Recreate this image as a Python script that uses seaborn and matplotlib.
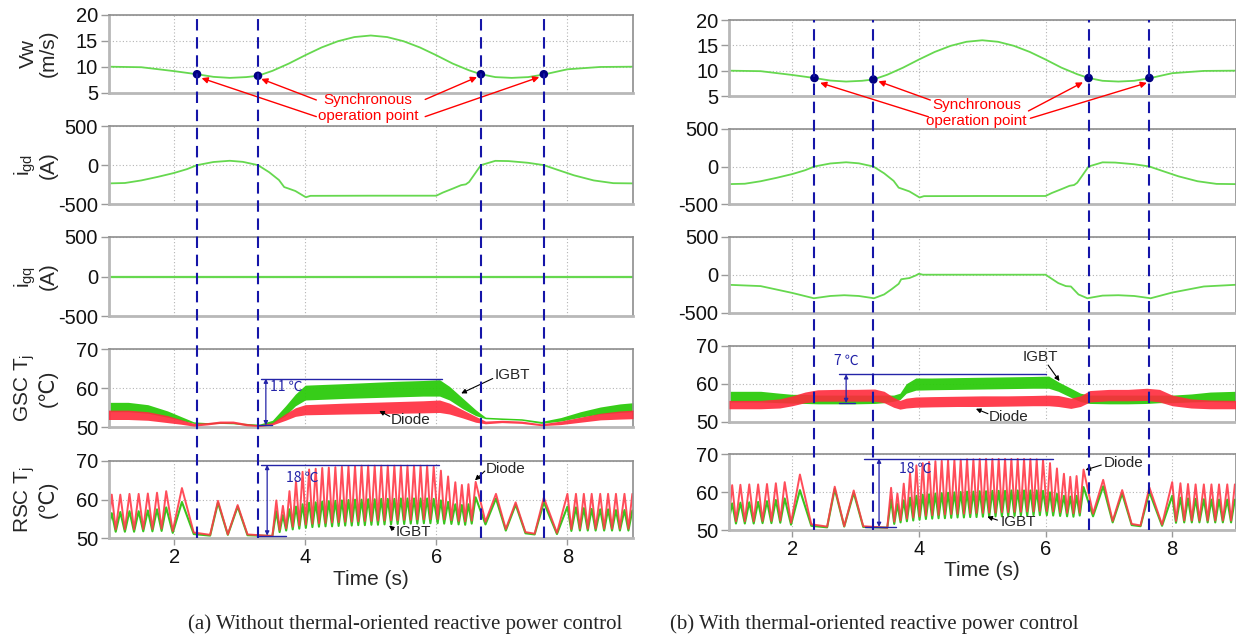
import numpy as np
import matplotlib
matplotlib.use("Agg")
import matplotlib.pyplot as plt
import matplotlib.transforms as mtransforms
from matplotlib.lines import Line2D
import seaborn as sns

sns.set_theme(style="white")
plt.rcParams["font.family"] = ["Liberation Sans", "DejaVu Sans"]
plt.rcParams["mathtext.default"] = "regular"
plt.rcParams["axes.unicode_minus"] = False

# ---- data ----
# wind speed (same in both cases)
vw_t = [1.0, 1.5, 2.0, 2.35, 2.6, 2.85, 3.1, 3.28, 3.5, 3.75, 4.0, 4.25, 4.5, 4.75, 5.0,
        5.25, 5.5, 5.75, 6.0, 6.25, 6.5, 6.68, 6.9, 7.15, 7.4, 7.64, 8.0, 8.5, 9.0]
vw_v = [10.0, 9.9, 9.15, 8.55, 8.05, 7.85, 8.0, 8.25, 9.2, 10.6, 12.2, 13.7, 14.9, 15.7, 16.0,
        15.7, 14.9, 13.7, 12.2, 10.6, 9.3, 8.55, 8.0, 7.85, 8.0, 8.5, 9.5, 9.95, 10.0]

sync_t = [2.35, 3.28, 6.68, 7.64]
sync_v = [8.55, 8.25, 8.55, 8.55]

# grid-side d-axis current
igd_t = [1.0, 1.25, 1.5, 1.75, 2.0, 2.2, 2.35, 2.6, 2.85, 3.05, 3.28, 3.45, 3.6, 3.68, 3.75,
         3.85, 3.95, 4.01, 4.08, 5.0, 6.0, 6.1, 6.25, 6.38, 6.45, 6.5, 6.58, 6.68, 6.9, 7.1,
         7.4, 7.64, 7.85, 8.1, 8.4, 8.7, 9.0]
igd_v = [-233, -228, -195, -150, -100, -50, 0, 40, 56, 42, 0, -90, -190, -280, -300,
         -330, -380, -410, -392, -390, -390, -350, -300, -255, -245, -215, -120, 0, 55, 52,
         30, 0, -60, -130, -195, -230, -233]

# grid-side q-axis current
igq_a_t = [1.0, 9.0]
igq_a_v = [0, 0]
igq_b_t = [1.0, 1.5, 2.0, 2.34, 2.6, 2.82, 3.05, 3.29, 3.45, 3.57, 3.68, 3.72, 3.85, 3.95, 4.0,
           4.06, 5.0, 6.0, 6.2, 6.32, 6.4, 6.52, 6.66, 6.9, 7.15, 7.4, 7.66, 8.0, 8.5, 9.0]
igq_b_v = [-133, -150, -240, -310, -280, -270, -280, -310, -260, -190, -120, -60, -44, -10, 13,
           0, 0, 0, -110, -150, -155, -260, -310, -275, -270, -280, -310, -235, -155, -133]

# GSC junction temperature bands (a)
gsc_a_t = [1.0, 1.3, 1.6, 1.9, 2.1, 2.3, 2.5, 2.7, 2.9, 3.1, 3.3, 3.5, 3.7, 3.85, 4.0, 4.3, 4.6,
           5.0, 5.4, 5.8, 6.05, 6.2, 6.4, 6.6, 6.75, 7.0, 7.3, 7.6, 7.9, 8.2, 8.5, 8.8, 9.0]
gsc_a_igbt_hi = [56.4, 56.4, 55.8, 54.2, 52.8, 51.4, 51.2, 51.3, 51.2, 51.0, 50.8, 51.8, 55.5, 58.5,
                 60.8, 61.0, 61.2, 61.5, 61.8, 62.0, 62.2, 60.5, 57.5, 54.5, 52.6, 52.4, 52.2, 51.5,
                 52.5, 54.0, 55.2, 56.0, 56.3]
gsc_a_igbt_lo = [54.0, 54.0, 53.6, 52.6, 51.8, 51.0, 50.9, 51.0, 50.9, 50.6, 50.4, 51.0, 53.0, 55.5,
                 57.0, 57.2, 57.4, 57.6, 57.8, 58.0, 58.0, 57.0, 54.8, 53.0, 52.2, 52.0, 51.8, 51.0,
                 51.6, 52.6, 53.4, 53.8, 54.0]
gsc_a_diode_hi = [54.4, 54.4, 54.0, 53.0, 52.0, 51.0, 51.2, 51.6, 51.6, 51.0, 50.6, 51.2, 53.5, 55.0,
                  55.8, 56.0, 56.2, 56.4, 56.6, 56.8, 57.0, 56.2, 54.5, 52.8, 51.6, 51.8, 51.6, 50.9,
                  51.6, 52.6, 53.6, 54.2, 54.4]
gsc_a_diode_lo = [52.0, 52.0, 51.8, 51.2, 50.8, 50.3, 50.6, 51.0, 51.0, 50.4, 50.2, 50.6, 51.8, 52.8,
                  53.2, 53.3, 53.4, 53.5, 53.6, 53.7, 53.8, 53.4, 52.4, 51.3, 50.9, 51.2, 51.0, 50.4,
                  50.7, 51.3, 51.9, 52.1, 52.2]

# GSC junction temperature bands (b)
gsc_b_t = [1.0, 1.5, 1.8, 2.0, 2.2, 2.4, 2.7, 3.0, 3.3, 3.45, 3.6, 3.7, 3.8, 3.95, 4.2, 4.6, 5.0,
           5.4, 5.8, 6.05, 6.2, 6.4, 6.55, 6.7, 7.0, 7.3, 7.6, 7.8, 8.0, 8.3, 8.6, 9.0]
gsc_b_igbt_hi = [58.0, 58.0, 57.5, 57.2, 57.2, 57.0, 57.0, 57.0, 57.0, 57.0, 57.0, 57.5, 60.0, 61.5,
                 61.5, 61.6, 61.7, 61.8, 61.9, 62.0, 60.5, 58.8, 57.5, 57.0, 57.0, 57.0, 57.0, 57.0,
                 57.0, 57.3, 57.8, 58.0]
gsc_b_igbt_lo = [55.2, 55.2, 55.0, 54.9, 54.8, 54.7, 54.7, 54.7, 54.8, 55.0, 55.4, 55.8, 57.5, 58.3,
                 58.4, 58.5, 58.6, 58.7, 58.8, 58.8, 58.0, 56.4, 55.3, 54.8, 54.7, 54.7, 54.8, 55.0,
                 55.0, 55.2, 55.3, 55.2]
gsc_b_diode_hi = [55.6, 55.6, 56.0, 56.8, 57.8, 58.4, 58.5, 58.5, 58.6, 58.0, 56.4, 55.6, 56.2, 56.5,
                  56.6, 56.7, 56.8, 56.8, 56.9, 57.0, 56.9, 56.2, 56.8, 58.2, 58.5, 58.5, 58.8, 58.5,
                  57.0, 56.0, 55.7, 55.6]
gsc_b_diode_lo = [53.4, 53.4, 53.6, 54.2, 55.0, 55.4, 55.4, 55.4, 55.4, 55.0, 53.8, 53.3, 53.6, 53.8,
                  53.9, 54.0, 54.0, 54.1, 54.2, 54.2, 54.0, 53.5, 54.0, 55.2, 55.5, 55.5, 55.6, 55.2,
                  54.2, 53.6, 53.4, 53.4]

# RSC junction temperature: peak and trough points
rsc_peak_t = [1.05, 1.18, 1.32, 1.46, 1.60, 1.74, 1.88, 2.12, 2.67, 2.97, 3.56, 3.66, 3.76, 3.86, 3.96,
              4.06, 4.16, 4.26, 4.36, 4.46, 4.56, 4.66, 4.76, 4.86, 4.96, 5.06, 5.16, 5.26, 5.36, 5.46,
              5.56, 5.66, 5.76, 5.86, 5.96, 6.07, 6.18, 6.29, 6.39, 6.49, 6.60, 6.91, 7.21, 7.64,
              8.00, 8.13, 8.25, 8.37, 8.50, 8.62, 8.74, 8.87, 8.99]
rsc_a_diode_pk = [61.3, 61.3, 61.5, 61.5, 61.6, 61.8, 62.2, 63.0, 59.7, 58.6, 59.8, 58.4, 62.2, 64.8, 67.2,
                  67.8, 68.0, 68.2, 68.3, 68.4, 68.5, 68.6, 68.7, 68.8, 68.8, 68.8, 68.8, 68.8, 68.8, 68.8,
                  68.8, 68.8, 68.8, 68.8, 68.5, 67.5, 66.0, 64.5, 63.8, 64.0, 64.6, 61.5, 59.3, 60.5,
                  61.5, 61.5, 61.5, 61.5, 61.5, 61.5, 61.5, 61.5, 61.5]
rsc_a_igbt_pk = [56.5, 56.8, 57.0, 57.0, 57.2, 57.5, 58.0, 59.4, 59.2, 58.2, 57.0, 56.0, 57.5, 58.2, 58.8,
                 59.2, 59.3, 59.5, 59.6, 59.7, 59.8, 59.9, 60.0, 60.0, 60.1, 60.1, 60.2, 60.2, 60.2, 60.3,
                 60.3, 60.3, 60.3, 60.3, 60.2, 59.8, 59.4, 58.8, 58.6, 58.8, 60.6, 60.3, 58.7, 59.3,
                 58.2, 58.0, 57.8, 57.6, 57.5, 57.5, 57.3, 57.3, 57.2]
rsc_b_diode_pk = [61.8, 61.9, 62.0, 62.0, 62.1, 62.3, 62.6, 64.6, 61.4, 60.4, 61.1, 59.6, 62.2, 65.0, 67.0,
                  67.6, 67.9, 68.1, 68.2, 68.3, 68.4, 68.5, 68.6, 68.6, 68.7, 68.7, 68.7, 68.7, 68.7, 68.7,
                  68.7, 68.7, 68.7, 68.6, 68.4, 67.6, 66.2, 64.8, 64.0, 64.2, 65.9, 63.2, 60.5, 61.2,
                  62.6, 62.3, 62.1, 62.0, 62.0, 62.0, 62.0, 62.0, 62.0]
rsc_b_igbt_pk = [57.0, 57.2, 57.3, 57.4, 57.6, 57.9, 58.3, 60.5, 60.8, 59.8, 58.0, 56.8, 57.8, 58.5, 59.0,
                 59.3, 59.4, 59.6, 59.7, 59.8, 59.9, 60.0, 60.1, 60.1, 60.2, 60.2, 60.3, 60.3, 60.3, 60.4,
                 60.4, 60.4, 60.4, 60.4, 60.3, 59.9, 59.5, 59.0, 58.8, 59.0, 61.3, 61.5, 59.6, 60.0,
                 59.0, 58.5, 58.3, 58.2, 58.1, 58.0, 58.0, 58.0, 58.0]
rsc_trough_t = [1.0, 1.11, 1.25, 1.39, 1.53, 1.67, 1.81, 1.98, 2.30, 2.55, 2.82, 3.12, 3.30, 3.50,
                3.61, 3.71, 3.81, 3.91, 4.01, 4.11, 4.21, 4.31, 4.41, 4.51, 4.61, 4.71, 4.81, 4.91,
                5.01, 5.11, 5.21, 5.31, 5.41, 5.51, 5.61, 5.71, 5.81, 5.91, 6.02, 6.12, 6.23, 6.34,
                6.44, 6.54, 6.75, 7.06, 7.36, 7.50, 7.84, 8.06, 8.19, 8.31, 8.43, 8.56, 8.68, 8.80, 8.93]
rsc_diode_tr = [53.5, 52.3, 52.3, 52.3, 52.4, 52.4, 52.5, 51.9, 51.5, 50.9, 51.0, 51.0, 50.8, 50.6,
                52.2, 52.6, 53.0, 53.3, 53.6, 53.8, 53.9, 54.0, 54.1, 54.2, 54.3, 54.3, 54.4, 54.5,
                54.5, 54.6, 54.6, 54.7, 54.7, 54.8, 54.8, 54.9, 54.9, 55.0, 55.0, 54.9, 54.7, 54.5,
                54.4, 54.6, 54.3, 52.4, 51.6, 51.2, 51.4, 52.4, 52.5, 52.5, 52.5, 52.5, 52.5, 52.5, 52.5]
rsc_igbt_tr = [52.8, 51.7, 51.7, 51.7, 51.8, 51.8, 51.9, 51.4, 51.1, 50.7, 50.9, 50.8, 50.7, 50.6,
               51.6, 52.0, 52.3, 52.5, 52.7, 52.9, 53.0, 53.1, 53.1, 53.2, 53.3, 53.3, 53.4, 53.4,
               53.5, 53.5, 53.6, 53.6, 53.7, 53.7, 53.8, 53.8, 53.9, 53.9, 53.9, 53.8, 53.7, 53.6,
               53.5, 53.8, 53.6, 52.0, 51.3, 51.0, 51.1, 51.9, 52.0, 52.0, 52.0, 52.0, 52.0, 52.0, 52.0]

# ---- colours ----
LINE_GREEN = "#66d84f"
BAND_GREEN = "#2ccb0c"
BAND_RED = "#ff2a3c"
RSC_RED = "#ff3a48"
RSC_GREEN = "#38c41f"
DASH_BLUE = "#1515a8"
MEAS_BLUE = "#2424a8"

W, H = 1236, 639
fig = plt.figure(figsize=(W / 100, H / 100), dpi=100)

rows_a = [(14.7, 92.7), (126, 204.3), (237, 316), (349.3, 427.3), (461, 538.3)]
rows_b = [(20, 96), (128.7, 204.3), (236.7, 312.7), (345.7, 421.7), (454, 530)]
cols = {"a": (108.5, 633), "b": (729, 1235.5)}


def make_axes(col, rows):
    x0, x1 = cols[col]
    axs = []
    for top, bot in rows:
        axs.append(fig.add_axes([x0 / W, 1 - bot / H, (x1 - x0) / W, (bot - top) / H]))
    return axs


def style(ax, ylim, yticks, bottom_row):
    ax.set_xlim(1, 9)
    ax.set_ylim(*ylim)
    ax.set_yticks(yticks)
    ax.set_xticks([2, 4, 6, 8])
    ax.grid(True, linestyle=(0, (1, 2)), color="#b4b4b4", lw=0.8)
    ax.set_facecolor("white")
    for s in ["top", "right"]:
        ax.spines[s].set_color("#8e8e8e")
        ax.spines[s].set_linewidth(1.2)
    for s in ["left", "bottom"]:
        ax.spines[s].set_color("#b8b8b8")
        ax.spines[s].set_linewidth(2.0)
    ax.tick_params(axis="y", left=True, length=6, width=1, color="#9a9a9a",
                   labelsize=14.5, pad=1.5, labelcolor="#111111")
    ax.tick_params(axis="x", bottom=bottom_row, labelbottom=bottom_row, length=5, width=1,
                   color="#9a9a9a", labelsize=14.5, pad=2, labelcolor="#111111")
    ax.set_xlabel("")
    ax.set_ylabel("")


def blue_measure(ax, x_arrow, y_lo, y_hi, top_span, low_span, label, label_xy, ha="left"):
    ax.plot(top_span, [y_hi, y_hi], color=MEAS_BLUE, lw=1.0, clip_on=False, zorder=6)
    ax.plot(low_span, [y_lo, y_lo], color=MEAS_BLUE, lw=1.0, clip_on=False, zorder=6)
    ax.annotate("", xy=(x_arrow, y_hi), xytext=(x_arrow, y_lo),
                arrowprops=dict(arrowstyle="<|-|>", color=MEAS_BLUE, lw=0.9,
                                mutation_scale=6, shrinkA=0, shrinkB=0), zorder=6)
    ax.text(label_xy[0], label_xy[1], label, color=MEAS_BLUE, fontsize=10, ha=ha, va="center",
            family=["Noto Sans CJK SC", "DejaVu Sans"], zorder=6)


def black_note(ax, text, text_xy, tail, head):
    ax.annotate("", xy=head, xytext=tail,
                arrowprops=dict(arrowstyle="-|>", color="black", lw=0.8, mutation_scale=7,
                                shrinkA=0, shrinkB=0), annotation_clip=False, zorder=7)
    ax.text(text_xy[0], text_xy[1], text, fontsize=11, ha="left", va="center", zorder=7)


def draw_panel(col, rows, igq_t, igq_v, gsc, rsc_pk, arrows, sync_text_xy, notes):
    axs = make_axes(col, rows)
    ax_vw, ax_gd, ax_gq, ax_gsc, ax_rsc = axs

    sns.lineplot(x=vw_t, y=vw_v, ax=ax_vw, color=LINE_GREEN, lw=1.3)
    sns.scatterplot(x=sync_t, y=sync_v, ax=ax_vw, color="#000080", s=38, edgecolor="none", zorder=8)
    style(ax_vw, (5, 20), [5, 10, 15, 20], False)

    sns.lineplot(x=igd_t, y=igd_v, ax=ax_gd, color=LINE_GREEN, lw=1.3)
    style(ax_gd, (-500, 500), [-500, 0, 500], False)

    sns.lineplot(x=igq_t, y=igq_v, ax=ax_gq, color=LINE_GREEN, lw=1.6 if len(igq_t) == 2 else 1.3)
    style(ax_gq, (-500, 500), [-500, 0, 500], False)

    g_t, g_ihi, g_ilo, g_dhi, g_dlo = gsc
    ax_gsc.fill_between(g_t, g_ilo, g_ihi, color=BAND_GREEN, lw=0, alpha=0.95, zorder=2)
    ax_gsc.fill_between(g_t, g_dlo, g_dhi, color=BAND_RED, lw=0, alpha=0.9, zorder=3)
    style(ax_gsc, (50, 70), [50, 60, 70], False)

    d_pk, i_pk = rsc_pk
    sns.lineplot(x=np.r_[rsc_peak_t, rsc_trough_t], y=np.r_[i_pk, rsc_igbt_tr], ax=ax_rsc,
                 color=RSC_GREEN, lw=1.5, estimator=None, sort=True)
    sns.lineplot(x=np.r_[rsc_peak_t, rsc_trough_t], y=np.r_[d_pk, rsc_diode_tr], ax=ax_rsc,
                 color=RSC_RED, lw=1.4, alpha=0.9, estimator=None, sort=True)
    style(ax_rsc, (50, 70), [50, 60, 70], True)
    ax_rsc.set_xlabel("Time (s)", fontsize=15, labelpad=2)

    # synchronous operation point labels
    ax_vw.text(sync_text_xy[0], sync_text_xy[1], "Synchronous\noperation point", color="red",
               fontsize=11, ha="center", va="center", linespacing=1.15, clip_on=False, zorder=9)
    for tail, head in arrows:
        ax_vw.annotate("", xy=head, xytext=tail,
                       arrowprops=dict(arrowstyle="-|>", color="red", lw=1.0, mutation_scale=9,
                                       shrinkA=0, shrinkB=0), annotation_clip=False, zorder=9)

    # dashed synchronous lines through all rows
    tr = mtransforms.blended_transform_factory(ax_rsc.transData, fig.transFigure)
    y_top = 1 - rows[0][0] / H
    y_bot = 1 - rows[-1][1] / H
    for t in sync_t:
        fig.add_artist(Line2D([t, t], [y_bot, y_top], transform=tr, color=DASH_BLUE, lw=1.5,
                              linestyle=(0, (5.5, 3.2)), zorder=10))

    blue_measure(ax_gsc, *notes["gsc_meas"])
    blue_measure(ax_rsc, *notes["rsc_meas"])
    for n in notes["gsc_notes"]:
        black_note(ax_gsc, *n)
    for n in notes["rsc_notes"]:
        black_note(ax_rsc, *n)
    return axs


axs_a = draw_panel(
    "a", rows_a, igq_a_t, igq_a_v,
    (gsc_a_t, gsc_a_igbt_hi, gsc_a_igbt_lo, gsc_a_diode_hi, gsc_a_diode_lo),
    (rsc_a_diode_pk, rsc_a_igbt_pk),
    [((4.17, 0.4), (2.42, 7.8)), ((4.17, 3.6), (3.33, 7.65)),
     ((5.83, 3.7), (6.62, 8.0)), ((5.83, 0.4), (7.57, 8.0))],
    (4.96, 2.0),
    {"gsc_meas": (3.40, 50.5, 62.5, [3.33, 6.08], [3.3, 3.5], "11 \u2103", (3.46, 60.4)),
     "rsc_meas": (3.42, 50.7, 69.0, [3.33, 6.04], [3.26, 3.71], "18 \u2103", (3.70, 65.7)),
     "gsc_notes": [("IGBT", (6.89, 63.4), (6.86, 62.5), (6.38, 58.7)),
                   ("Diode", (5.31, 52.0), (5.29, 52.8), (5.13, 54.2))],
     "rsc_notes": [("Diode", (6.76, 67.9), (6.74, 67.4), (6.59, 65.0)),
                   ("IGBT", (5.38, 51.7), (5.35, 52.3), (5.28, 53.3))]},
)

axs_b = draw_panel(
    "b", rows_b, igq_b_t, igq_b_v,
    (gsc_b_t, gsc_b_igbt_hi, gsc_b_igbt_lo, gsc_b_diode_hi, gsc_b_diode_lo),
    (rsc_b_diode_pk, rsc_b_igbt_pk),
    [((4.15, 0.9), (2.44, 7.6)), ((4.18, 4.2), (3.36, 7.9)),
     ((5.73, 2.05), (6.59, 7.7)), ((5.76, 0.6), (7.6, 7.6))],
    (4.91, 1.7),
    {"gsc_meas": (2.85, 54.9, 62.5, [2.74, 6.01], [2.73, 2.99], "7 \u2103", (2.85, 66.0), "center"),
     "rsc_meas": (3.37, 50.8, 68.8, [3.14, 6.12], [3.15, 3.63], "18 \u2103", (3.69, 66.2)),
     "gsc_notes": [("IGBT", (5.64, 67.1), (6.04, 64.9), (6.22, 60.7)),
                   ("Diode", (5.11, 51.3), (5.09, 52.1), (4.90, 53.4))],
     "rsc_notes": [("Diode", (6.92, 67.7), (6.88, 67.1), (6.63, 65.8)),
                   ("IGBT", (5.29, 52.2), (5.24, 52.6), (5.08, 53.5))]},
)

# y labels only on the left panel
ylabels = ["Vw\n(m/s)", "i$_{gd}$\n(A)", "i$_{gq}$\n(A)", "GSC T$_j$\n(\u2103)", "RSC T$_j$\n(\u2103)"]
for ax, lab in zip(axs_a, ylabels):
    ax.set_ylabel(lab, fontsize=15, linespacing=1.05)
    ax.yaxis.set_label_coords(-0.097, 0.5)

fig.text(405 / W, 1 - 624 / H, "(a) Without thermal-oriented reactive power control",
         family="Liberation Serif", fontsize=15, ha="center", va="center")
fig.text(874 / W, 1 - 624 / H, "(b) With thermal-oriented reactive power control",
         family="Liberation Serif", fontsize=15, ha="center", va="center")

fig.savefig("out.png", dpi=100)
